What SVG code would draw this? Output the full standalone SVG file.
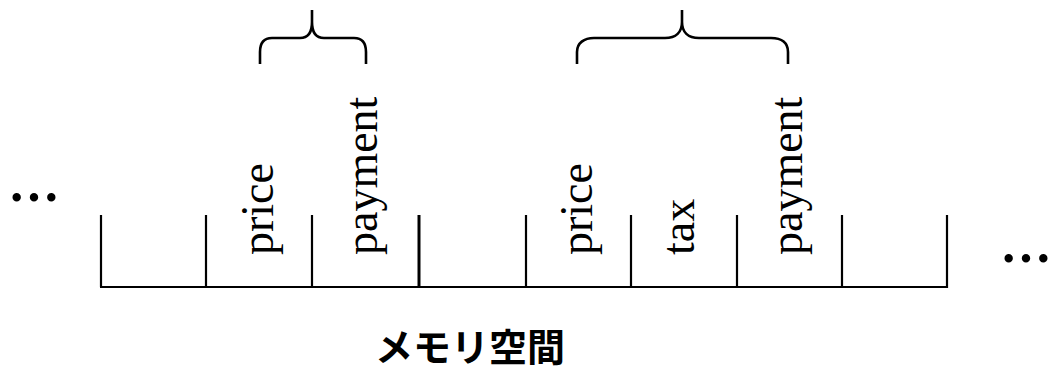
<svg xmlns="http://www.w3.org/2000/svg" width="1054" height="370" viewBox="0 0 1054 370">
<style>
.ln{stroke:#000;stroke-width:2.2;fill:none}
.brace{stroke:#000;stroke-width:2.6;fill:none;stroke-linecap:butt}
.lbl{font-family:"Liberation Serif","Times New Roman",serif;font-size:46px;fill:#000}
.dots{font-family:"Noto Sans CJK JP","DejaVu Sans",sans-serif;font-size:52px;font-weight:bold;fill:#000}
.title{font-family:"Noto Sans CJK JP","Noto Sans",sans-serif;font-size:38px;font-weight:bold;fill:#000}
</style>
<rect width="1054" height="370" fill="#fff"/>
<g id="memory">
<path class="ln" d="M100,287 H947"/>
<path class="ln" d="M101,215 V287 M206,215 V287 M312,215 V287 M526,215 V287 M631,215 V287 M737,215 V287 M842,215 V287 M947,215 V288"/>
<path class="ln" style="stroke-width:3" d="M419,215 V287"/>
</g>
<g id="cell-price1"><text class="lbl" transform="translate(273,255) rotate(-90)">price</text></g>
<g id="cell-payment1"><text class="lbl" transform="translate(377,255) rotate(-90)">payment</text></g>
<g id="cell-price2"><text class="lbl" transform="translate(592,255) rotate(-90)">price</text></g>
<g id="cell-tax"><text class="lbl" transform="translate(694,255) rotate(-90)">tax</text></g>
<g id="cell-payment2"><text class="lbl" transform="translate(802,255) rotate(-90)">payment</text></g>
<g id="brace1"><path class="brace" d="M260,64 V52 C260,43 264,38 272,38 H300 C308,38 312,32 312,22 V10 M312,22 C312,32 316,38 324,38 H354 C362,38 366,43 366,52 V64"/></g>
<g id="brace2"><path class="brace" d="M577,64 V52 C577,43 584,38 594,38 H665 C676,38 682,32 682,22 V10 M682,22 C682,32 688,38 699,38 H771 C782,38 788,43 788,52 V64"/></g>
<g id="ellipsis-left"><text class="dots" x="34" y="194" text-anchor="middle" dominant-baseline="central">…</text></g>
<g id="ellipsis-right"><text class="dots" x="1026" y="255" text-anchor="middle" dominant-baseline="central">…</text></g>
<g id="title"><text class="title" x="470" y="361" text-anchor="middle">メモリ空間</text></g>
</svg>
